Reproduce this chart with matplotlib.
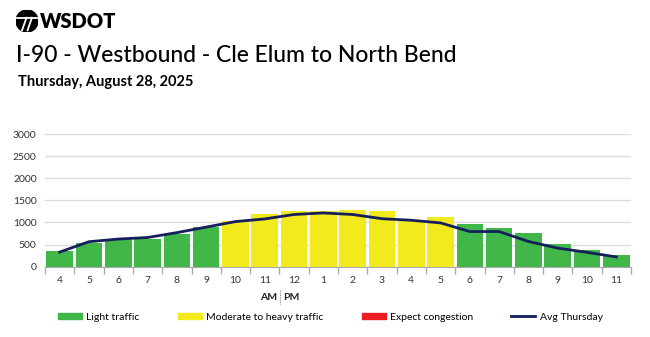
import matplotlib.pyplot as plt
from matplotlib.patches import Circle, Patch
from matplotlib.lines import Line2D

hours = ["4", "5", "6", "7", "8", "9", "10", "11", "12", "1",
         "2", "3", "4", "5", "6", "7", "8", "9", "10", "11"]
volume = [350, 530, 630, 630, 750, 900, 1040, 1200, 1260, 1270,
          1290, 1250, 1050, 1120, 975, 870, 755, 520, 375, 270]
level = ["light"] * 6 + ["moderate"] * 8 + ["light"] * 6
avg_thursday = [330, 565, 625, 660, 770, 895, 1020, 1080, 1180, 1215,
                1180, 1085, 1050, 990, 795, 795, 570, 420, 325, 220]

COLORS = {"light": "#41b649", "moderate": "#f2ea1d", "heavy": "#ec1c24"}
NAVY = "#141f5c"

plt.rcParams["font.family"] = ["Lato", "DejaVu Sans"]

fig = plt.figure(figsize=(6.5, 3.37), dpi=100, facecolor="white")
W, H = 650, 337
ax = fig.add_axes([45 / W, 1 - 266.7 / H, (631 - 45) / W, (266.7 - 134) / H])

x = list(range(len(hours)))
ax.bar(x, volume, width=0.91, color=[COLORS[l] for l in level], zorder=2)
ax.plot(x, avg_thursday, color=NAVY, lw=2, zorder=3)

ax.set_xlim(-0.5, len(hours) - 0.5)
ax.set_ylim(0, 3000)
ax.set_yticks(range(0, 3001, 500))
ax.yaxis.grid(True, color="#dddddd", lw=1, zorder=0)
ax.set_axisbelow(True)
ax.set_xticks(x)
ax.set_xticklabels(hours)
ax.set_xticks([i - 0.5 for i in range(len(hours) + 1)], minor=True)
ax.tick_params(axis="x", which="major", length=0, pad=7, labelsize=7.5, labelcolor="#333333")
ax.tick_params(axis="x", which="minor", length=5, color="#aaaaaa", width=1)
ax.tick_params(axis="y", length=0, pad=6, labelsize=7.5, labelcolor="#333333")
for s in ["top", "right", "left"]:
    ax.spines[s].set_visible(False)
ax.spines["bottom"].set_color("#aaaaaa")

# AM | PM marker
fig.text(277 / W, 1 - 297 / H, "AM", ha="right", va="center", fontsize=7.5, fontweight="bold", color="#222222")
fig.text(283 / W, 1 - 297 / H, "PM", ha="left", va="center", fontsize=7.5, fontweight="bold", color="#222222")
fig.add_artist(Line2D([280 / W, 280 / W], [1 - 290 / H, 1 - 304 / H], color="#888888", lw=0.8, ls=(0, (1, 1))))

# header logo
lax = fig.add_axes([16 / W, 1 - 32 / H, 22 / W, 22 / H])
lax.set_xlim(-1, 1)
lax.set_ylim(-1, 1)
lax.set_aspect("equal")
lax.axis("off")
lax.add_patch(Circle((0, 0), 1, color="black"))
lax.plot([-0.95, 0.95], [0.3, 0.3], color="white", lw=1.3)
lax.plot([-0.45, -0.05], [-0.85, 0.3], color="white", lw=1.3)
lax.plot([0.05, 0.45], [-0.85, 0.3], color="white", lw=1.3)
fig.text(40 / W, 1 - 22 / H, "WSDOT", ha="left", va="center", fontsize=14.5, fontweight="heavy", color="black")
fig.text(16 / W, 1 - 55 / H, "I-90 - Westbound - Cle Elum to North Bend", ha="left", va="center",
         fontsize=16.5, fontweight="medium", color="black")
fig.text(18 / W, 1 - 82 / H, "Thursday, August 28, 2025", ha="left", va="center",
         fontsize=10.5, fontweight="bold", color="black")

handles = [Patch(color=COLORS["light"], label="Light traffic"),
           Patch(color=COLORS["moderate"], label="Moderate to heavy traffic"),
           Patch(color=COLORS["heavy"], label="Expect congestion"),
           Line2D([], [], color=NAVY, lw=2, label="Avg Thursday")]
fig.legend(handles=handles, loc="center", bbox_to_anchor=(0.508, 1 - 317 / H), ncol=4, frameon=False,
           fontsize=7.5, handlelength=2.3, handleheight=0.6, handletextpad=0.4, columnspacing=3.7)

fig.savefig("out.png", dpi=100, facecolor="white")
